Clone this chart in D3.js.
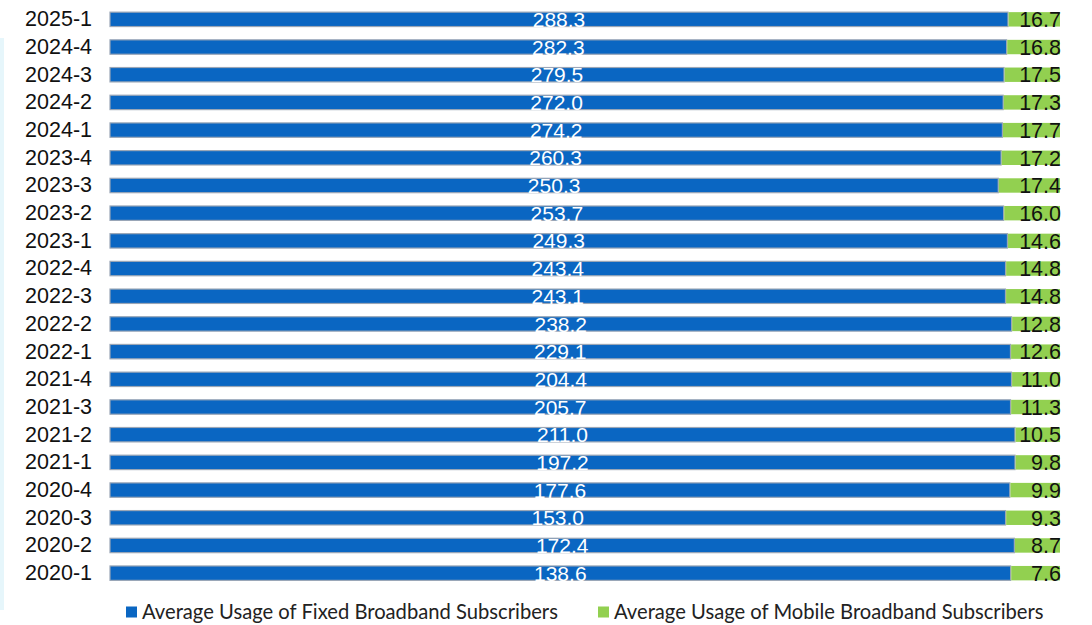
<!DOCTYPE html>
<html><head><meta charset="utf-8">
<script src="https://cdn.jsdelivr.net/npm/d3@7"></script>
<style>
html,body{margin:0;padding:0;background:#fff;}
svg{display:block;}
</style></head>
<body>
<svg id="chart" width="1092" height="625"></svg>
<script>
// Quarterly average usage per subscriber, newest first
const quarters = ["2025-1","2024-4","2024-3","2024-2","2024-1","2023-4","2023-3","2023-2","2023-1","2022-4","2022-3","2022-2","2022-1","2021-4","2021-3","2021-2","2021-1","2020-4","2020-3","2020-2","2020-1"];
const fixedUsage = [288.3,282.3,279.5,272.0,274.2,260.3,250.3,253.7,249.3,243.4,243.1,238.2,229.1,204.4,205.7,211.0,197.2,177.6,153.0,172.4,138.6];
const mobileUsage = [16.7,16.8,17.5,17.3,17.7,17.2,17.4,16.0,14.6,14.8,14.8,12.8,12.6,11.0,11.3,10.5,9.8,9.9,9.3,8.7,7.6];
const seriesNames = ["Average Usage of Fixed Broadband Subscribers","Average Usage of Mobile Broadband Subscribers"];
const seriesColors = ["#0a66c2","#92d050"];

const svg = d3.select("#chart");

// faint strip along the left edge
svg.append("rect").attr("x",0).attr("y",38).attr("width",4).attr("height",572).attr("fill","#e6f6fb");

const rows = quarters.map((q,i)=>({q, fixed: fixedUsage[i], mobile: mobileUsage[i]}));
rows.forEach(r=>{ const t = r.fixed + r.mobile; r.fixedShare = r.fixed/t; r.mobileShare = r.mobile/t; });

const x = d3.scaleLinear().domain([0,1]).range([110,1060]);
const y = d3.scaleBand().domain(quarters).range([5.5,587]).paddingInner(0.48).paddingOuter(0.24);

const font = "Liberation Sans, Arial, sans-serif";

// category axis labels
const yAxis = d3.axisLeft(y).tickSize(0).tickPadding(0);
const ga = svg.append("g").attr("transform","translate(92,0)").call(yAxis);
ga.select(".domain").remove();
ga.selectAll("text").attr("font-family",font).attr("font-size",21.5).attr("fill","#111");

const bars = svg.append("g").selectAll("g").data(rows).join("g");

// fixed share segment
bars.append("rect")
  .attr("x", x(0))
  .attr("y", d=>y(d.q))
  .attr("width", d=>x(d.fixedShare)-x(0))
  .attr("height", y.bandwidth())
  .attr("fill", seriesColors[0])
  .attr("stroke","#9aa6b6").attr("stroke-width",1.2);

// mobile share segment
bars.append("rect")
  .attr("x", d=>x(d.fixedShare)+0.6)
  .attr("y", d=>y(d.q))
  .attr("width", d=>x(1)-x(d.fixedShare)-0.6)
  .attr("height", y.bandwidth())
  .attr("fill", seriesColors[1]);

// value labels
bars.append("text")
  .attr("x", d=>(x(0)+x(d.fixedShare))/2)
  .attr("y", d=>y(d.q)+y.bandwidth()/2)
  .attr("dy","0.36em")
  .attr("text-anchor","middle")
  .attr("font-family",font)
  .attr("font-size",21)
  .attr("fill","#fff")
  .text(d=>d.fixed.toFixed(1));

bars.append("text")
  .attr("x", x(1)+1)
  .attr("y", d=>y(d.q)+y.bandwidth()/2)
  .attr("dy","0.36em")
  .attr("text-anchor","end")
  .attr("font-family",font)
  .attr("font-size",21.5)
  .attr("fill","#111")
  .text(d=>d.mobile.toFixed(1));

// legend
const legend = svg.append("g");
const legendX = [126, 598];
seriesNames.forEach((name,i)=>{
  const g = legend.append("g").attr("transform",`translate(${legendX[i]},612)`);
  g.append("rect").attr("x",0).attr("y",-5.5).attr("width",11).attr("height",11).attr("fill",seriesColors[i]);
  g.append("text").attr("x",16).attr("y",0).attr("dy","0.35em")
    .attr("font-family","Lato, Open Sans, sans-serif").attr("font-size",20.2).attr("fill","#222")
    .text(name);
});
</script>
</body></html>
